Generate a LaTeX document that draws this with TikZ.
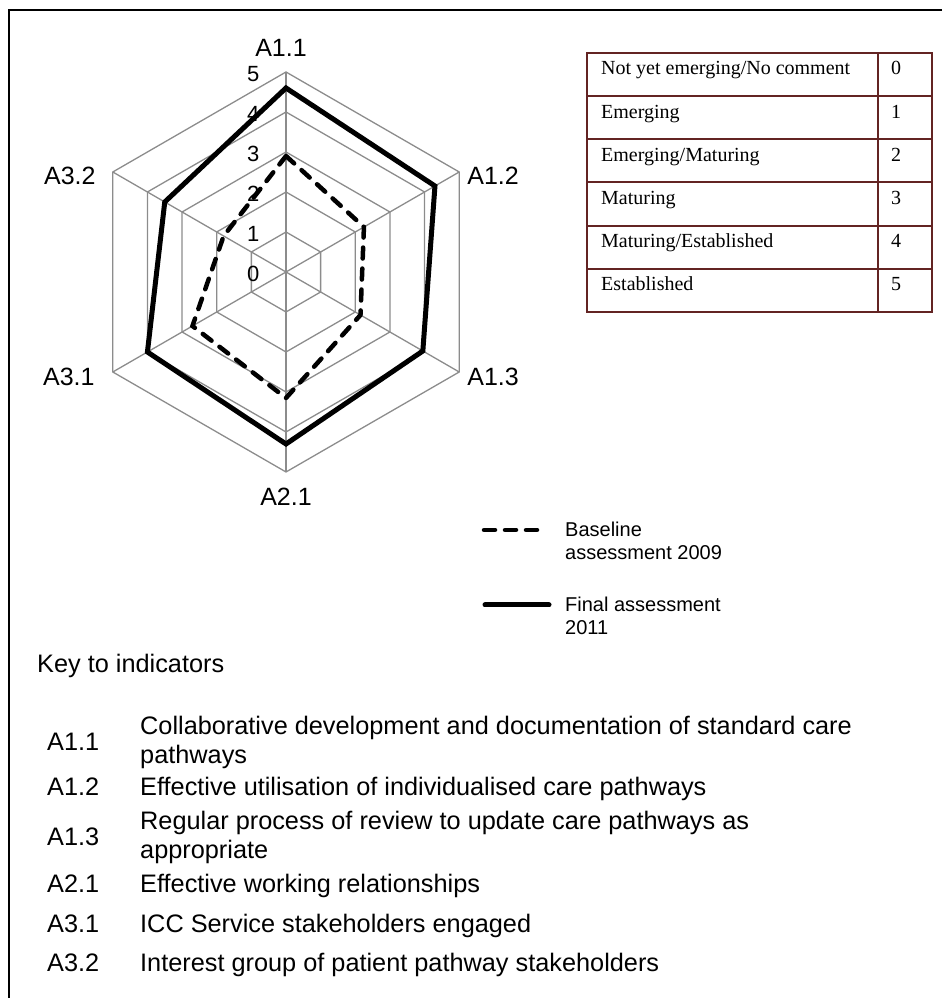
\documentclass[tikz,border=0pt]{standalone}
\usepackage{fontspec}
\setmainfont{Liberation Sans}
\newfontfamily\tablefont{Liberation Serif}
\usepackage{xcolor}
\usetikzlibrary{positioning}
\usetikzlibrary{calc}

\definecolor{gridgray}{RGB}{140,140,140}
\definecolor{tableborder}{RGB}{99,36,35}

\begin{document}
\begin{tikzpicture}[x=1pt, y=1pt,
    gridline/.style={draw=gridgray, line width=1.3pt},
    axislabel/.style={font=\fontsize{25}{29}\selectfont, inner sep=0pt},
    ticklabel/.style={font=\fontsize{22}{26}\selectfont, inner sep=0pt, anchor=east},
    run09/.style={line width=4.5pt, dash pattern=on 11pt off 10pt, line cap=round, line join=miter},
    run11/.style={line width=5pt, line join=miter},
    cell/.style={font=\tablefont\fontsize{20}{24}\selectfont, inner sep=0pt, anchor=base west},
    legendtext/.style={font=\fontsize{20}{23}\selectfont, inner sep=0pt, align=left, anchor=north west},
    keytext/.style={font=\fontsize{25.3}{29}\selectfont, inner sep=0pt, anchor=base west},
    keytwo/.style={font=\fontsize{25.3}{29}\selectfont, inner sep=0pt, align=left, anchor=west}]
    \useasboundingbox (0,0) rectangle (942,998);
    % frame
    \draw[line width=1.2pt] (942,988) -- (9,988) -- (9,0);

    % radar chart
    \begin{scope}[shift={(286,726)}, x=40pt, y=40pt]
        \foreach \k in {1,...,5}
            \draw[gridline] (90:\k) -- (30:\k) -- (-30:\k) -- (-90:\k) -- (210:\k) -- (150:\k) -- cycle;
        \draw[gridline] (90:5) -- (-90:5);
        \draw[gridline] (30:5) -- (210:5);
        \draw[gridline] (150:5) -- (-30:5);
        \coordinate (v11) at (90:5);
        \coordinate (v12) at (30:5);
        \coordinate (v13) at (-30:5);
        \coordinate (v21) at (-90:5);
        \coordinate (v31) at (210:5);
        \coordinate (v32) at (150:5);
        \foreach \k in {0,...,5}
            \node[ticklabel] (tick\k) at (-0.66, \k-0.05) {\k};
        \draw[run09] (90:2.9) -- (30:2.25) -- (-30:2.15) -- (-90:3.15) -- (210:2.7) -- (150:1.8) -- cycle;
        \draw[run11] (90:4.6) -- (30:4.3) -- (-30:3.95) -- (-90:4.3) -- (210:4.0) -- (150:3.5) -- cycle;
    \end{scope}
    \node[axislabel, above=15pt of v11, xshift=-5pt] (lab11) {A1.1};
    \node[axislabel, right=8pt of v12, yshift=-4pt] (lab12) {A1.2};
    \node[axislabel, right=8pt of v13, yshift=-5pt] (lab13) {A1.3};
    \node[axislabel, below=16pt of v21] (lab21) {A2.1};
    \node[axislabel, left=18pt of v31, yshift=-5pt] (lab31) {A3.1};
    \node[axislabel, left=17pt of v32, yshift=-4pt] (lab32) {A3.2};

    % scale table
    \draw[tableborder, line width=2pt] (587,686) rectangle (932,945);
    \draw[tableborder, line width=2pt] (878,686) -- (878,945);
    \foreach \k in {1,...,5}
        \draw[tableborder, line width=2pt] (587,945-43.17*\k) -- (932,945-43.17*\k);
    \node[cell] (lvl0) at (601,923) {Not yet emerging/No comment};
    \node[cell] (lvl1) at (601,879.8) {Emerging};
    \node[cell] (lvl2) at (601,836.7) {Emerging/Maturing};
    \node[cell] (lvl3) at (601,793.5) {Maturing};
    \node[cell] (lvl4) at (601,750.3) {Maturing/Established};
    \node[cell] (lvl5) at (601,707.2) {Established};
    \node[cell, anchor=base] (val0) at (896,923) {0};
    \node[cell, anchor=base] (val1) at (896,879.8) {1};
    \node[cell, anchor=base] (val2) at (896,836.7) {2};
    \node[cell, anchor=base] (val3) at (896,793.5) {3};
    \node[cell, anchor=base] (val4) at (896,750.3) {4};
    \node[cell, anchor=base] (val5) at (896,707.2) {5};

    % legend
    \coordinate (d09a) at (484,468);
    \coordinate (d09b) at (538,468);
    \coordinate (d11a) at (485,393);
    \coordinate (d11b) at (549,393);
    \draw[run09] (d09a) -- (d09b);
    \draw[run11, line cap=round] (d11a) -- (d11b);
    \node[legendtext] (leg09) at (565,476) {Baseline\\assessment 2009};
    \node[legendtext] (leg11) at (565,401) {Final assessment\\2011};

    % key to indicators
    \node[keytext] (keyhead) at (37,325) {Key to indicators};
    \node[keytwo] (k11) at (47,256) {A1.1};
    \node[keytwo] (t11) at (140,256) {Collaborative development and documentation of standard care\\pathways};
    \node[keytext] (k12) at (47,202) {A1.2};
    \node[keytext] (t12) at (140,202) {Effective utilisation of individualised care pathways};
    \node[keytwo] (k13) at (47,161) {A1.3};
    \node[keytwo] (t13) at (140,161) {Regular process of review to update care pathways as\\appropriate};
    \node[keytext] (k21) at (47,105) {A2.1};
    \node[keytext] (t21) at (140,105) {Effective working relationships};
    \node[keytext] (k31) at (47,65) {A3.1};
    \node[keytext] (t31) at (140,65) {ICC Service stakeholders engaged};
    \node[keytext] (k32) at (47,27) {A3.2};
    \node[keytext] (t32) at (140,27) {Interest group of patient pathway stakeholders};
\end{tikzpicture}
\end{document}
